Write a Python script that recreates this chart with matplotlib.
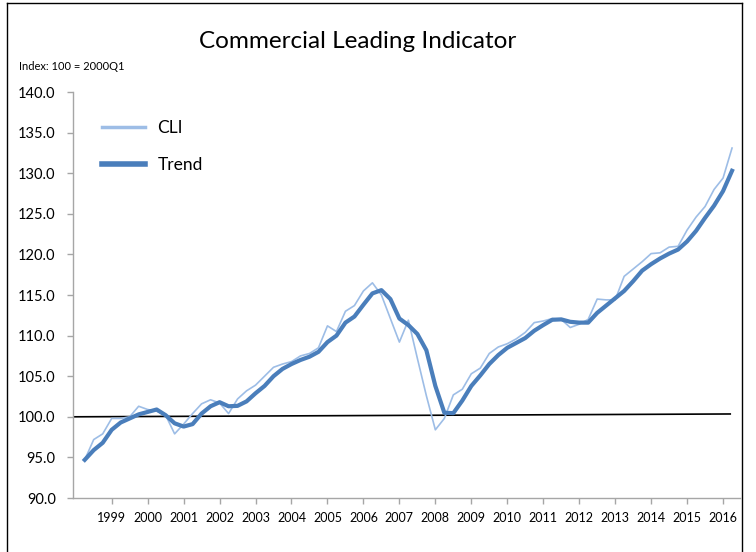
import matplotlib
matplotlib.use("Agg")
import matplotlib.pyplot as plt
import numpy as np

# quarterly readings, 1998Q2 .. 2016Q2
cli = [94.7, 97.2, 97.9, 99.8, 99.8, 100.0, 101.3, 100.9, 100.7, 100.2,
       97.9, 99.1, 100.4, 101.6, 102.1, 101.7, 100.4, 102.2, 103.2, 103.9,
       105.0, 106.1, 106.5, 106.8, 107.5, 107.8, 108.5, 111.2, 110.5, 113.0,
       113.7, 115.5, 116.5, 115.0, 112.1, 109.2, 111.9, 107.2, 102.6, 98.4,
       99.8, 102.7, 103.4, 105.3, 106.0, 107.8, 108.6, 109.0, 109.6, 110.4,
       111.6, 111.8, 112.1, 112.0, 111.0, 111.4, 112.0, 114.5, 114.4, 114.4,
       117.3, 118.2, 119.1, 120.1, 120.2, 120.9, 121.0, 123.0, 124.6, 125.9,
       128.0, 129.4, 133.1]
trend = [94.7, 95.9, 96.8, 98.4, 99.3, 99.8, 100.3, 100.6, 100.9, 100.2,
         99.2, 98.8, 99.1, 100.4, 101.3, 101.8, 101.3, 101.35, 101.9, 102.9,
         103.8, 105.0, 105.9, 106.5, 107.0, 107.4, 108.0, 109.2, 110.0, 111.6,
         112.35, 113.8, 115.2, 115.6, 114.5, 112.1, 111.3, 110.2, 108.2, 103.8,
         100.5, 100.45, 102.0, 103.8, 105.1, 106.5, 107.6, 108.5, 109.1, 109.7,
         110.6, 111.3, 111.95, 112.0, 111.7, 111.6, 111.6, 112.8, 113.7, 114.6,
         115.5, 116.7, 118.0, 118.8, 119.5, 120.1, 120.6, 121.6, 122.9, 124.5,
         126.0, 127.8, 130.3]
years = [str(y) for y in range(1999, 2017)]
base_y = [100.0, 100.35]   # the drawn 100 reference line (left end, right end)

q = np.arange(len(cli))
year_pos = np.arange(3, len(cli), 4)[:len(years)]

fig = plt.figure(figsize=(7.56, 5.52), dpi=100)
plt.rcParams['font.family'] = ['Lato', 'DejaVu Sans']

ax = fig.add_axes([0.0966, 0.0978, 0.8824, 0.7355])
ax.plot([-1.3, q[-1] - 0.2], base_y, color='black', lw=1.2, zorder=1)
ax.plot(q, cli, color='#9dbde6', lw=1.2, zorder=2, label='CLI')
ax.plot(q, trend, color='#4a7ebb', lw=3.0, zorder=3, label='Trend')

ax.set_xlim(-1.3, 72.9)
ax.set_ylim(90, 140)
ax.set_yticks(np.arange(90, 141, 5))
ax.set_yticklabels(['%.1f' % v for v in np.arange(90, 141, 5)], fontsize=10.5)
ax.set_xticks(year_pos)
ax.set_xticklabels(years, fontsize=9)

for s in ['top', 'right']:
    ax.spines[s].set_visible(False)
for s in ['left', 'bottom']:
    ax.spines[s].set_color('#a6a6a6')
    ax.spines[s].set_linewidth(1.0)
ax.tick_params(axis='both', colors='#a6a6a6', length=4, width=1.0, labelcolor='black')
ax.tick_params(axis='y', pad=8.5)
ax.tick_params(axis='x', pad=6)

leg = ax.legend(loc='upper left', bbox_to_anchor=(0.02, 0.97), frameon=False,
                fontsize=12.5, handlelength=2.5, labelspacing=1.2, handletextpad=0.7)
leg.get_lines()[0].set_linewidth(2.5)
leg.get_lines()[1].set_linewidth(4.0)

fig.text(0.473, 0.925, 'Commercial Leading Indicator', ha='center', va='center', fontsize=17.5)
fig.text(0.025, 0.88, 'Index: 100 = 2000Q1', ha='left', va='center', fontsize=8)

# outer frame of the chart area
fig.add_artist(plt.Line2D([0.0095, 0.0095], [0.0, 0.995], color='black', lw=1.0))
fig.add_artist(plt.Line2D([0.0095, 0.982], [0.995, 0.995], color='black', lw=1.0))
fig.add_artist(plt.Line2D([0.982, 0.982], [0.995, 0.0], color='black', lw=1.0))

fig.savefig('out.png', dpi=100)
